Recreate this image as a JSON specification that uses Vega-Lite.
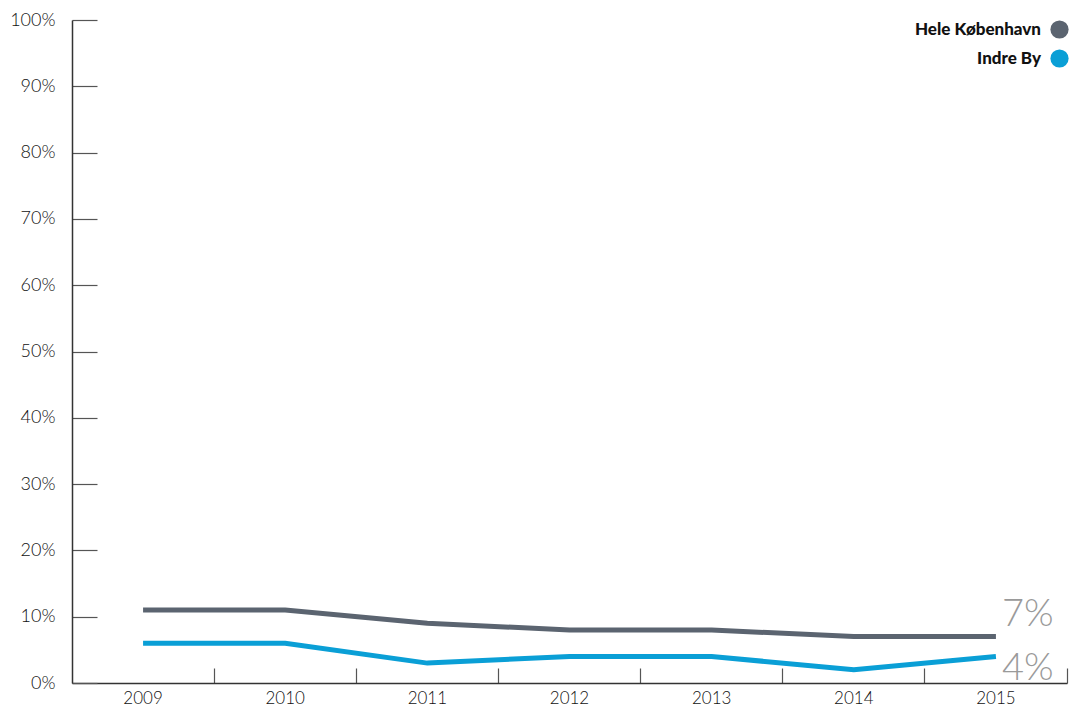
{
  "$schema": "https://vega.github.io/schema/vega-lite/v6.json",
  "autosize": "none",
  "width": 995,
  "height": 663,
  "padding": {"left": 72, "top": 20, "right": 3, "bottom": 30},
  "background": "white",
  "config": {
    "view": {"stroke": null},
    "font": "Lato",
    "axis": {"labelFont": "Lato", "labelFontWeight": 300, "labelColor": "#111111", "labelFontSize": 18, "grid": false, "domainColor": "#333333", "domainWidth": 1.5, "tickColor": "#555555", "tickWidth": 1.2, "title": null, "labelOverlap": false}
  },
  "data": {"values": [
    {"year": "2009", "series": "Hele København", "value": 0.11},
    {"year": "2010", "series": "Hele København", "value": 0.11},
    {"year": "2011", "series": "Hele København", "value": 0.09},
    {"year": "2012", "series": "Hele København", "value": 0.08},
    {"year": "2013", "series": "Hele København", "value": 0.08},
    {"year": "2014", "series": "Hele København", "value": 0.07},
    {"year": "2015", "series": "Hele København", "value": 0.07},
    {"year": "2009", "series": "Indre By", "value": 0.06},
    {"year": "2010", "series": "Indre By", "value": 0.06},
    {"year": "2011", "series": "Indre By", "value": 0.03},
    {"year": "2012", "series": "Indre By", "value": 0.04},
    {"year": "2013", "series": "Indre By", "value": 0.04},
    {"year": "2014", "series": "Indre By", "value": 0.02},
    {"year": "2015", "series": "Indre By", "value": 0.04}
  ]},
  "encoding": {
    "x": {"field": "year", "type": "ordinal", "scale": {"type": "band", "paddingInner": 0, "paddingOuter": 0},
      "axis": {"labelAngle": 0, "bandPosition": 1, "tickSize": -15, "labelPadding": 22, "labelFontSize": 17}},
    "y": {"field": "value", "type": "quantitative", "scale": {"domain": [0, 1], "nice": false},
      "axis": {"format": ".0%", "values": [0,0.1,0.2,0.3,0.4,0.5,0.6,0.7,0.8,0.9,1], "tickSize": -25, "labelPadding": 42}}
  },
  "layer": [
    {
      "mark": {"type": "line", "strokeWidth": 5, "interpolate": "linear"},
      "encoding": {
        "color": {"field": "series", "type": "nominal",
          "scale": {"domain": ["Hele København", "Indre By"], "range": ["#5b6470", "#0a9fd6"]},
          "legend": {"orient": "none", "legendX": 978, "legendY": 0, "title": null, "symbolType": "circle", "symbolSize": 330, "symbolStrokeWidth": 0, "symbolOpacity": 1, "labelAlign": "right", "labelOffset": -28, "labelFont": "Lato", "labelFontWeight": 900, "labelFontSize": 17, "labelColor": "#111111", "rowPadding": 10, "padding": 0, "labelLimit": 300,
            "encode": {"symbols": {"update": {"fill": {"scale": "color", "field": "value"}, "fillOpacity": {"value": 1}}}}}
        }
      }
    },
    {
      "transform": [{"filter": "datum.year == '2015' && datum.series == 'Hele København'"}],
      "mark": {"type": "text", "align": "left", "baseline": "alphabetic", "dx": 6, "dy": -11, "fontSize": 38, "fontWeight": 300, "color": "#9a9a9a"},
      "encoding": {"text": {"field": "value", "type": "quantitative", "format": ".0%"}}
    },
    {
      "transform": [{"filter": "datum.year == '2015' && datum.series == 'Indre By'"}],
      "mark": {"type": "text", "align": "left", "baseline": "alphabetic", "dx": 6, "dy": 24, "fontSize": 38, "fontWeight": 300, "color": "#9a9a9a"},
      "encoding": {"text": {"field": "value", "type": "quantitative", "format": ".0%"}}
    }
  ]
}
